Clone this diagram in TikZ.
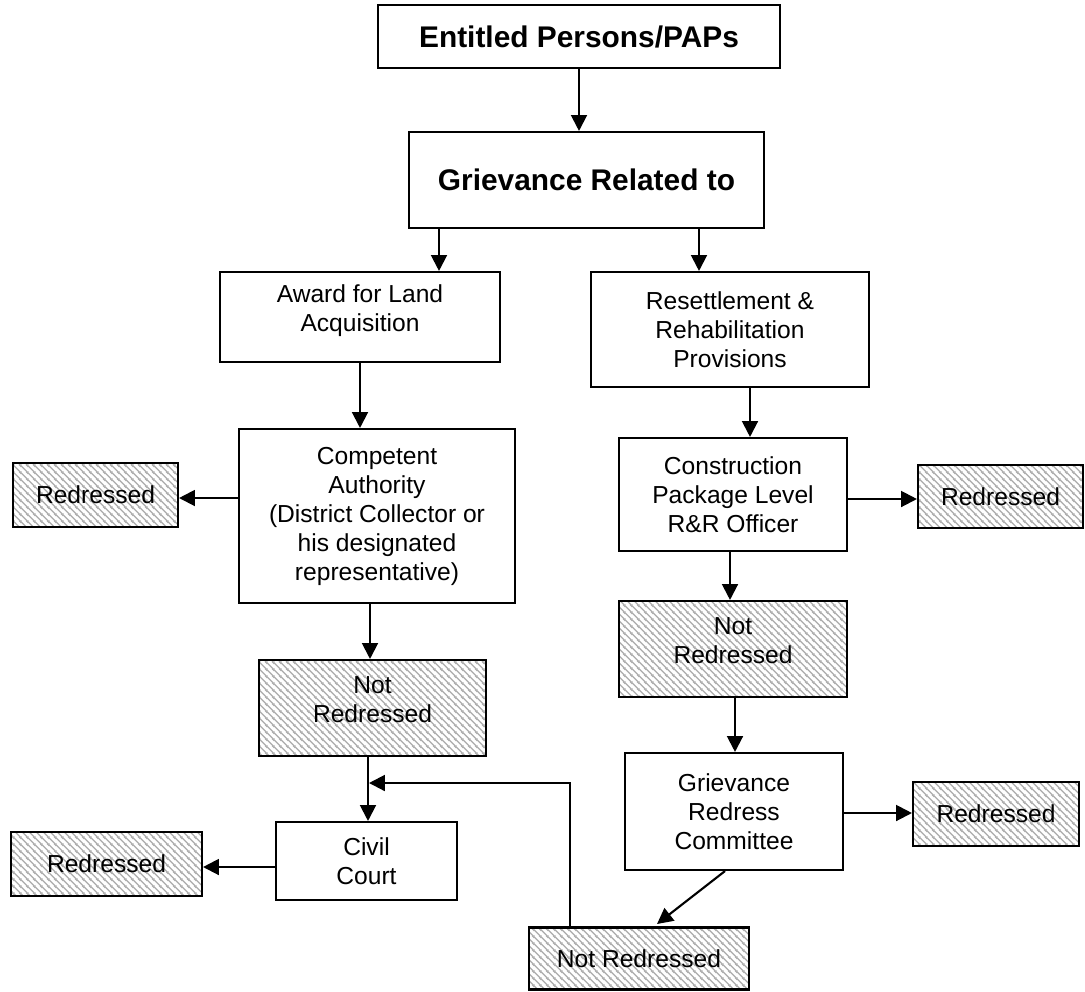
\documentclass[tikz,border=0pt]{standalone}
\usepackage{fontspec}
\setmainfont{Liberation Sans}
\usetikzlibrary{arrows.meta,patterns.meta,calc}
\tikzdeclarepattern{
  name=hatchnw,
  type=uncolored,
  bounding box={(0pt,0pt) and (4pt,4pt)},
  tile size={(4pt,4pt)},
  code={
    \draw[line width=0.8pt] (-1pt,5pt) -- (5pt,-1pt);
    \draw[line width=0.8pt] (-1pt,1pt) -- (1pt,-1pt);
    \draw[line width=0.8pt] (3pt,5pt) -- (5pt,3pt);
  }
}
\newcommand{\lowpad}{\rule[-10pt]{0pt}{0pt}}
\begin{document}
\begin{tikzpicture}[x=0.02cm,y=-0.02cm,
  box/.style={draw, line width=1.2pt, rectangle, align=center, inner sep=2pt,
    font=\fontsize{14}{16.5}\selectfont},
  hbox/.style={box, pattern=hatchnw, pattern color=black!33},
  titlebox/.style={box, font=\fontsize{17}{20}\selectfont\bfseries},
  arr/.style={line width=1.2pt, -{Triangle[length=9pt,width=9pt]}}]
\fill[white] (0,0) rectangle (1085,991);
\useasboundingbox (0,0) rectangle (1085,991);

\node[titlebox, minimum width=8.04cm, minimum height=1.26cm] (ent) at (579,36.5) {Entitled Persons/PAPs};
\node[titlebox, minimum width=7.1cm, minimum height=1.92cm] (gr) at (586.5,180) {Grievance Related to};
\node[box, minimum width=5.6cm, minimum height=1.8cm] (award) at (360,317) {Award for Land\\Acquisition\lowpad};
\node[box, minimum width=5.56cm, minimum height=2.3cm] (rr) at (730,329.5) {Resettlement \&\\Rehabilitation\\Provisions};
\node[box, minimum width=5.52cm, minimum height=3.48cm] (comp) at (377,516) {Competent\\Authority\\(District Collector or\\his designated\\representative)};
\node[hbox, minimum width=3.3cm, minimum height=1.28cm] (red1) at (95.5,495) {Redressed};
\node[box, minimum width=4.56cm, minimum height=2.26cm] (cons) at (733,494.5) {Construction\\Package Level\\R\&R Officer};
\node[hbox, minimum width=3.3cm, minimum height=1.26cm] (red2) at (1000.5,496.5) {Redressed};
\node[hbox, minimum width=4.56cm, minimum height=1.92cm] (nr2) at (733,649) {Not\\Redressed\lowpad};
\node[hbox, minimum width=4.54cm, minimum height=1.92cm] (nr1) at (372.5,708) {Not\\Redressed\lowpad};
\node[box, minimum width=4.36cm, minimum height=2.34cm] (grc) at (734,811.5) {Grievance\\Redress\\Committee};
\node[hbox, minimum width=3.32cm, minimum height=1.28cm] (red3) at (996,814) {Redressed};
\node[box, minimum width=3.62cm, minimum height=1.56cm] (civil) at (366.5,861) {Civil\\Court};
\node[hbox, minimum width=3.82cm, minimum height=1.28cm] (red4) at (106.5,864) {Redressed};
\node[hbox, minimum width=4.4cm, minimum height=1.24cm] (nr3) at (639,958.5) {Not Redressed};

\coordinate (xa) at (439,0);
\coordinate (xb) at (699,0);
\coordinate (xc) at (750,0);
\coordinate (xd) at (730,0);
\coordinate (xe) at (370,0);
\coordinate (xf) at (735,0);
\coordinate (xg) at (368,0);
\coordinate (ya) at (0,498);
\coordinate (yb) at (0,499);
\coordinate (yc) at (0,813);
\coordinate (yd) at (0,867);
\coordinate (fb) at (570,783);
\coordinate (fbt) at (369,783);
\coordinate (dg1) at (725,0);
\coordinate (dg2) at (657,924);

\draw[arr] (ent.south) -- (ent.south |- gr.north);
\draw[arr] (gr.south -| xa) -- (award.north -| xa);
\draw[arr] (gr.south -| xb) -- (rr.north -| xb);
\draw[arr] (award.south) -- (award.south |- comp.north);
\draw[arr] (rr.south -| xc) -- (cons.north -| xc);
\draw[arr] (comp.west |- ya) -- (red1.east |- ya);
\draw[arr] (cons.east |- yb) -- (red2.west |- yb);
\draw[arr] (cons.south -| xd) -- (nr2.north -| xd);
\draw[arr] (comp.south -| xe) -- (nr1.north -| xe);
\draw[arr] (nr2.south -| xf) -- (grc.north -| xf);
\draw[arr] (nr1.south -| xg) -- (civil.north -| xg);
\draw[arr] (grc.east |- yc) -- (red3.west |- yc);
\draw[arr] (grc.south -| dg1) -- (dg2);
\draw[arr] (civil.west |- yd) -- (red4.east |- yd);
\draw[arr] (nr3.north -| fb) -- (fb) -- (fbt);
\end{tikzpicture}
\end{document}
